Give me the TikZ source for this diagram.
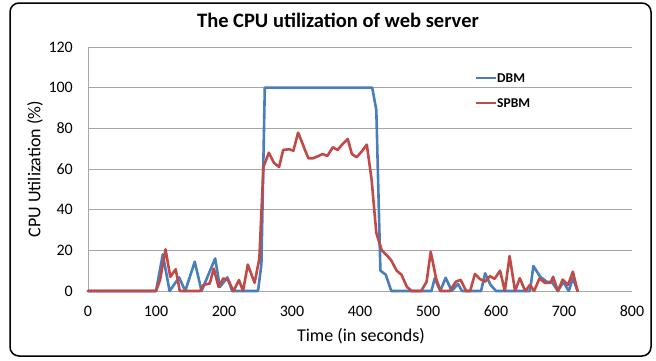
\documentclass[tikz,border=0pt]{standalone}
\usepackage{fontspec}
\setmainfont{Carlito}
\definecolor{dbm}{HTML}{4A7EBB}
\definecolor{spbm}{HTML}{BE4B48}
\definecolor{gridc}{HTML}{A6A6A6}
\begin{document}
\begin{tikzpicture}[x=1pt,y=1pt,
  ticklab/.style={font=\fontsize{16}{18}\selectfont, inner sep=0pt},
  axtitle/.style={font=\fontsize{18}{20}\selectfont, inner sep=0pt},
  charttitle/.style={font=\fontsize{20.5}{24}\selectfont\bfseries, inner sep=0pt},
  legtext/.style={font=\fontsize{13.5}{15}\selectfont\bfseries, inner sep=0pt, anchor=west},
  gridline/.style={draw=gridc, line width=1pt},
  series/.style={line width=2.6pt, line join=round, line cap=round}]
\useasboundingbox (0,0) rectangle (656,360);
\draw[line width=1.5pt, rounded corners=9pt] (10,4) rectangle (651,357);
\node[charttitle] (title) at (338,340) {The CPU utilization of web server};
\begin{scope}[shift={(88,69)}, x=0.68pt, y=2.0333pt]
  \foreach \v in {20,40,...,120} \draw[gridline] (0,\v) -- (800,\v);
  \draw[gridline] (0,0) -- (800,0);
  \draw[gridline] (0,0) -- (0,120);
  \foreach \v in {0,20,...,120} \node[ticklab, anchor=east] (yt\v) at (-22,\v) {\v};
  \foreach \t in {0,100,...,800} \node[ticklab] (xt\t) at (\t,-10) {\t};
  \draw[series, dbm] plot coordinates {
    (0,0) (100,0) (110,18) (120,0) (134,6.7) (143,0) (157,14.4) (167,0)
    (187,16) (194,2) (205,6.7) (212,0) (250,0) (255,13) (260,100) (418,100)
    (424,89) (430,10) (438,8) (446,0) (505,0) (510,6.3) (518,0) (526,6.5)
    (535,0) (544,3.5) (550,0) (578,0) (584,8.7) (592,3) (600,0) (650,0)
    (655,12.3) (665,7) (675,4.5) (682,4.5) (691,0) (699,4.5) (707,0) (713,6.2) (720,0)};
  \draw[series, spbm] plot coordinates {
    (0,0) (100,0) (106,5.4) (114,20.5) (121,7) (129,10.7) (135,0) (165,0)
    (170,3) (179,3.7) (185,11) (192,2) (199,6.2) (206,5.4) (214,0) (222,5.4)
    (228,0) (235,13) (245,4) (252,16) (258,61) (266,68) (273.5,63) (281,61)
    (287,69.4) (296,69.7) (302,69) (309,77.9) (324,65.3) (331,65.3) (339,66.4)
    (345,67.4) (352,66.4) (360,70.7) (367,69.4) (374.5,72.3) (382,74.8) (388,67.4)
    (395,65.8) (402.5,68.6) (410,72) (417,55) (424,28.5) (432,20) (441,17)
    (446,15) (454,10) (461,8) (469,2) (476,0) (490,0) (498,4.6) (504,19.3)
    (512,6) (518.6,0) (532,0) (541,4.6) (548,5.5) (556,0) (562,0) (569,8.4)
    (576,6) (584,4.6) (591,7.3) (598,6) (606,10) (613,0) (620,17.2) (628,0)
    (635,6.3) (643,0) (650,3) (656,0) (664,6.2) (672,4) (680,4) (684,7)
    (691,0) (698,5.6) (706,3) (713,9.5) (720,0)};
\end{scope}
\node[axtitle] (xlab) at (361,24) {Time (in seconds)};
\node[axtitle, rotate=90] (ylab) at (35,191) {CPU Utilization (\%)};
\coordinate (l1a) at (476,282);
\coordinate (l1b) at (496,282);
\coordinate (l2a) at (476,257);
\coordinate (l2b) at (496,257);
\draw[series, dbm, line cap=butt] (l1a) -- (l1b);
\draw[series, spbm, line cap=butt] (l2a) -- (l2b);
\node[legtext] (leg1) at (497,282) {DBM};
\node[legtext] (leg2) at (497,257) {SPBM};
\end{tikzpicture}
\end{document}
